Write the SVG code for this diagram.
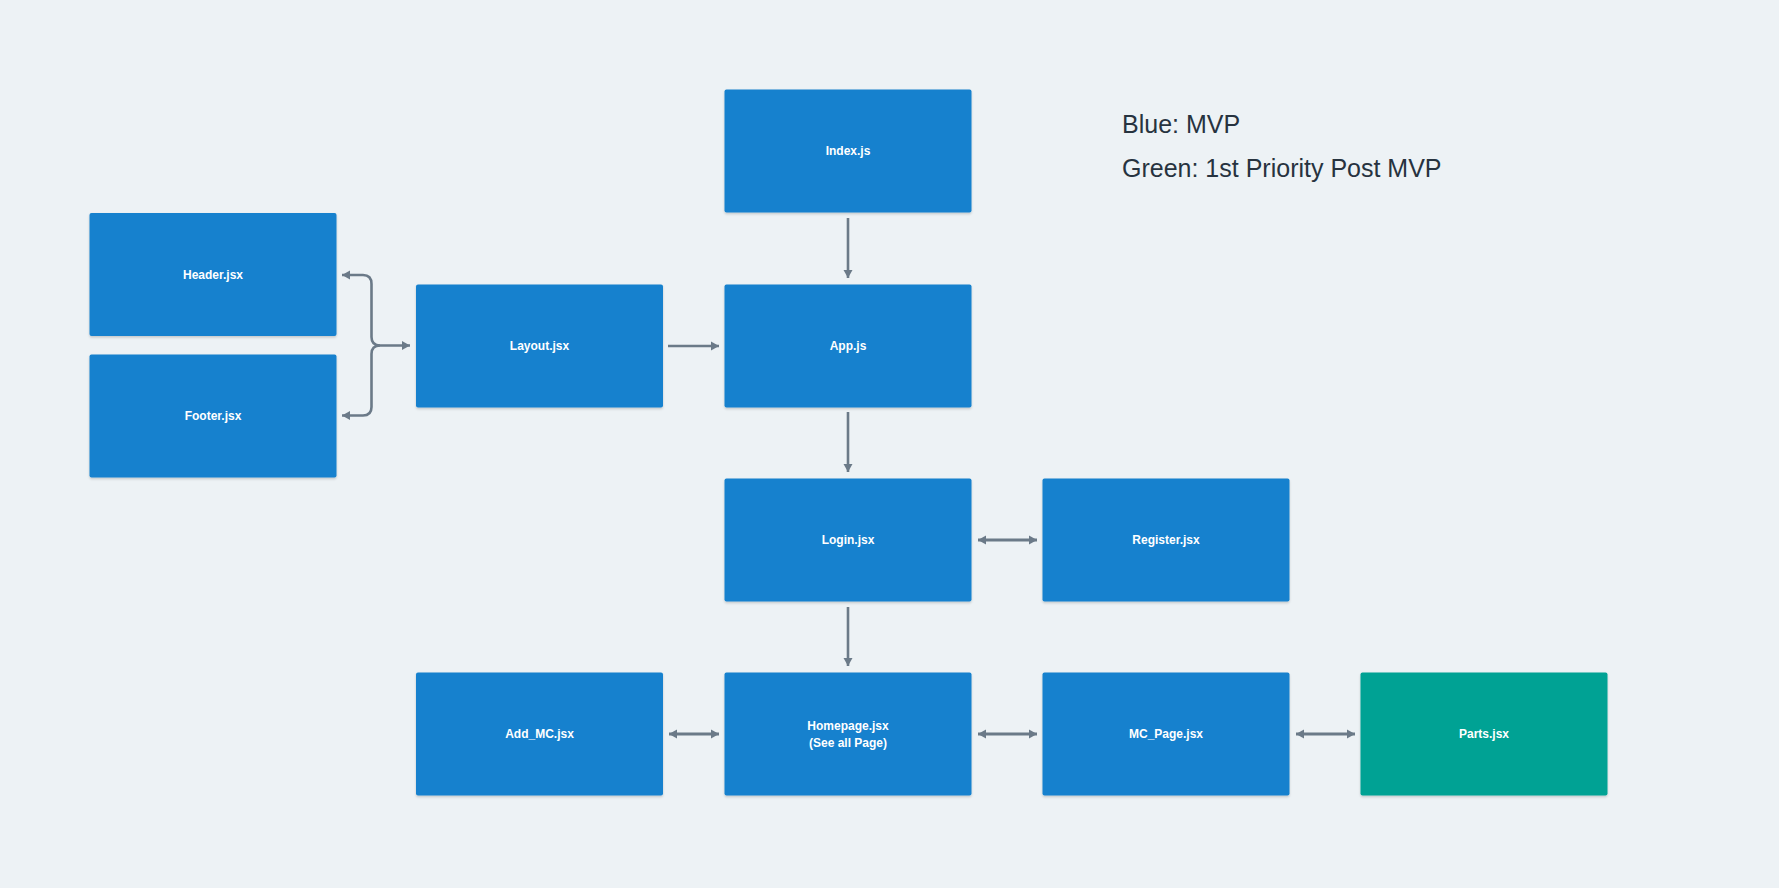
<svg xmlns="http://www.w3.org/2000/svg" width="1779" height="888" viewBox="0 0 1779 888">
<defs>
<style>
.box{fill:#1681CE;}
.green{fill:#04A294;}
.lbl{font-family:"Liberation Sans",Arial,sans-serif;font-size:12px;font-weight:bold;fill:#FFFFFF;text-anchor:middle;}
.legend{font-family:"Liberation Sans",Arial,sans-serif;font-size:25px;fill:#27333F;}
.con{fill:none;stroke:#6B7A88;stroke-width:2.6;stroke-linecap:butt;stroke-linejoin:round;}
.bi{stroke-width:3.2;}
</style>
<filter id="sh" x="-5%" y="-5%" width="110%" height="115%">
<feDropShadow dx="0" dy="1.5" stdDeviation="1.2" flood-color="#000" flood-opacity="0.18"/>
</filter>
<marker id="ah" markerUnits="userSpaceOnUse" markerWidth="12" markerHeight="12" viewBox="0 0 12 12" refX="8" refY="6" orient="auto-start-reverse">
<path d="M0,1.5 L8,6 L0,10.5 Z" fill="#6B7A88"/>
</marker>
</defs>
<rect x="0" y="0" width="1779" height="888" fill="#EDF2F5"/>

<g id="connectors">
<path class="con" d="M848,218 V278" marker-end="url(#ah)"/>
<path class="con" d="M668,346 H719" marker-end="url(#ah)"/>
<path class="con" d="M848,412 V472" marker-end="url(#ah)"/>
<path class="con" d="M848,607 V666" marker-end="url(#ah)"/>
<path class="con bi" d="M978,540 H1037" marker-start="url(#ah)" marker-end="url(#ah)"/>
<path class="con bi" d="M669,734 H719" marker-start="url(#ah)" marker-end="url(#ah)"/>
<path class="con bi" d="M978,734 H1037" marker-start="url(#ah)" marker-end="url(#ah)"/>
<path class="con bi" d="M1296,734 H1355" marker-start="url(#ah)" marker-end="url(#ah)"/>
<path class="con" d="M342,275 H363 Q371.5,275 371.5,284 V337 Q371.5,345.5 380,345.5 H410" marker-start="url(#ah)" marker-end="url(#ah)"/>
<path class="con" d="M342,415.5 H363 Q371.5,415.5 371.5,407 V354 Q371.5,345.5 380,345.5" marker-start="url(#ah)"/>
</g>

<g id="index"><rect class="box" filter="url(#sh)" x="724.5" y="89.5" width="247" height="123" rx="2"/><text class="lbl" x="848" y="155">Index.js</text></g>
<g id="header"><rect class="box" filter="url(#sh)" x="89.5" y="213" width="247" height="123" rx="2"/><text class="lbl" x="213" y="279">Header.jsx</text></g>
<g id="footer"><rect class="box" filter="url(#sh)" x="89.5" y="354.5" width="247" height="123" rx="2"/><text class="lbl" x="213" y="420">Footer.jsx</text></g>
<g id="layout"><rect class="box" filter="url(#sh)" x="416" y="284.5" width="247" height="123" rx="2"/><text class="lbl" x="539.5" y="350">Layout.jsx</text></g>
<g id="app"><rect class="box" filter="url(#sh)" x="724.5" y="284.5" width="247" height="123" rx="2"/><text class="lbl" x="848" y="350">App.js</text></g>
<g id="login"><rect class="box" filter="url(#sh)" x="724.5" y="478.5" width="247" height="123" rx="2"/><text class="lbl" x="848" y="544">Login.jsx</text></g>
<g id="register"><rect class="box" filter="url(#sh)" x="1042.5" y="478.5" width="247" height="123" rx="2"/><text class="lbl" x="1166" y="544">Register.jsx</text></g>
<g id="add_mc"><rect class="box" filter="url(#sh)" x="416" y="672.5" width="247" height="123" rx="2"/><text class="lbl" x="539.5" y="738">Add_MC.jsx</text></g>
<g id="homepage"><rect class="box" filter="url(#sh)" x="724.5" y="672.5" width="247" height="123" rx="2"/><text class="lbl" x="848" y="730">Homepage.jsx</text><text class="lbl" x="848" y="746.5">(See all Page)</text></g>
<g id="mc_page"><rect class="box" filter="url(#sh)" x="1042.5" y="672.5" width="247" height="123" rx="2"/><text class="lbl" x="1166" y="738">MC_Page.jsx</text></g>
<g id="parts"><rect class="green" filter="url(#sh)" x="1360.5" y="672.5" width="247" height="123" rx="2"/><text class="lbl" x="1484" y="738">Parts.jsx</text></g>

<g id="legend">
<text class="legend" x="1122" y="132.5">Blue: MVP</text>
<text class="legend" x="1122" y="176.5">Green: 1st Priority Post MVP</text>
</g>
</svg>
